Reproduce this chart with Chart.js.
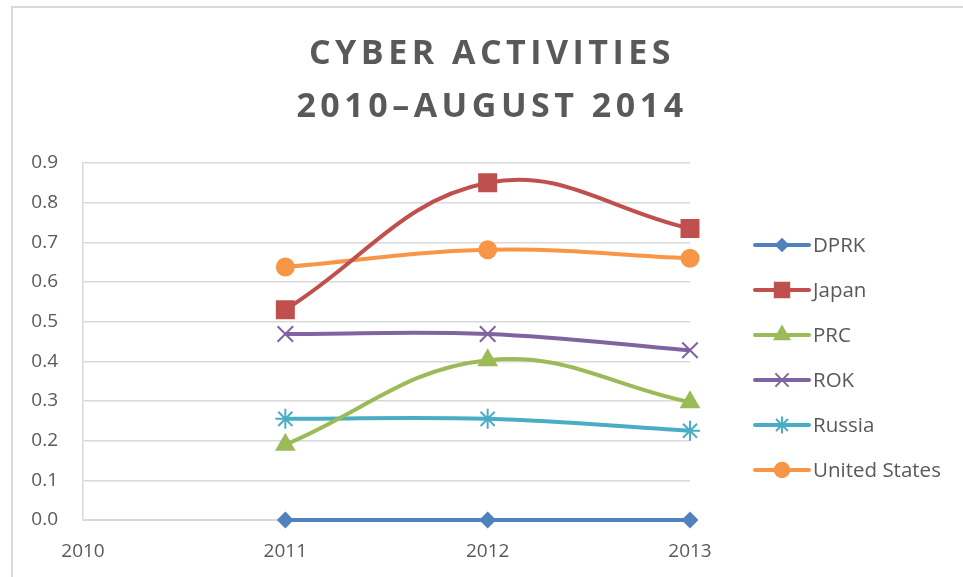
<!DOCTYPE html>
<html>
<head>
<meta charset="utf-8">
<script src="https://cdn.jsdelivr.net/npm/chart.js@4/dist/chart.umd.min.js"></script>
<style>
	html, body { margin: 0; padding: 0; background: #fff; }
	#wrap { position: relative; width: 963px; height: 577px; overflow: hidden; }
	#frame { position: absolute; left: 11px; top: 6px; width: 1000px; height: 600px;
		border-left: 2px solid #d9d9d9; border-top: 2px solid #d9d9d9; }
	#title { position: absolute; left: 0; top: 25px; width: 984px; text-align: center;
		font-family: "Open Sans", sans-serif; font-weight: 700; font-size: 34px;
		letter-spacing: 4.5px; line-height: 53px; color: #595959; }
	#chart { position: absolute; left: 0; top: 0; }
</style>
</head>
<body>
<div id="wrap">
	<div id="frame"></div>
	<canvas id="chart" width="963" height="577"></canvas>
	<div id="title">CYBER ACTIVITIES<br>2010–AUGUST 2014</div>
</div>
<script>
// data
const years = ["2010", "2011", "2012", "2013"];
const seriesNames = ["DPRK", "Japan", "PRC", "ROK", "Russia", "United States"];
const dprk = [null, 0, 0, 0];
const japan = [null, 0.53, 0.85, 0.735];
const prc = [null, 0.19, 0.403, 0.297];
const rok = [null, 0.469, 0.469, 0.428];
const russia = [null, 0.255, 0.255, 0.225];
const unitedStates = [null, 0.638, 0.681, 0.66];
const yMin = 0;
const yMax = 0.9;
const yStep = 0.1;

const colors = ["#4f81bd", "#c0504d", "#9bbb59", "#8064a2", "#4bacc6", "#f79646"];
const markers = ["rectRot", "rect", "triangle", "crossRot", "star", "circle"];
const markerSizes = [7, 12, 10, 11, 10, 8.5];
const values = [dprk, japan, prc, rok, russia, unitedStates];

// legend icon: line with the marker in the middle
const makeIcon = (i) => {
	const c = document.createElement("canvas");
	c.width = 58;
	c.height = 26;
	const ctx = c.getContext("2d");
	ctx.strokeStyle = colors[i];
	ctx.lineWidth = 4;
	ctx.lineCap = "round";
	ctx.beginPath();
	ctx.moveTo(2, 13);
	ctx.lineTo(56, 13);
	ctx.stroke();
	ctx.fillStyle = colors[i];
	ctx.lineWidth = 2;
	ctx.lineCap = "butt";
	Chart.helpers.drawPoint(ctx, {
		pointStyle: markers[i],
		radius: markerSizes[i] * 0.85,
		rotation: 0,
		borderWidth: 2,
	}, 29, 13);
	return c;
};
const icons = seriesNames.map((n, i) => makeIcon(i));

// excel style legend on the right: line + marker, then the name
const sideLegend = {
	id: "sideLegend",
	afterDraw(chart) {
		const c = chart.ctx;
		const left = chart.chartArea.right + 63;
		const top = 245;
		const gap = 45;
		c.save();
		c.font = '20.5px "Open Sans"';
		c.fillStyle = "#595959";
		c.textBaseline = "middle";
		c.textAlign = "left";
		chart.data.datasets.forEach((ds, i) => {
			const y = top + i * gap;
			c.drawImage(icons[i], left, y - 13);
			c.fillText(ds.label, left + 60, y + 1);
		});
		c.restore();
	},
};

const drawChart = () => {
	const datasets = seriesNames.map((name, i) => ({
		label: name,
		data: values[i],
		borderColor: colors[i],
		backgroundColor: colors[i],
		borderWidth: 4,
		tension: 0.4,
		pointStyle: markers[i],
		pointRadius: markerSizes[i],
		pointBorderWidth: 2,
		pointHoverRadius: markerSizes[i],
		clip: false,
	}));

	const ctx = document.getElementById("chart").getContext("2d");
	new Chart(ctx, {
		type: "line",
		data: { labels: years, datasets: datasets },
		plugins: [sideLegend],
		options: {
			responsive: false,
			animation: false,
			layout: { padding: { top: 163, left: 0, right: 273, bottom: 0 } },
			scales: {
				x: {
					offset: false,
					grid: { display: false, drawTicks: false },
					border: { display: true, color: "#d9d9d9", width: 1 },
					ticks: {
						color: "#595959",
						padding: 20,
						maxRotation: 0,
						font: { family: "Open Sans", size: 19 },
					},
					afterFit: (scale) => { scale.height = 57; },
				},
				y: {
					min: yMin,
					max: yMax,
					grid: { color: "#d9d9d9", lineWidth: 1.5, drawTicks: false },
					border: { display: true, color: "#d9d9d9", width: 1.5 },
					ticks: {
						stepSize: yStep,
						color: "#595959",
						padding: 25,
						font: { family: "Open Sans", size: 19 },
						callback: (v) => Number(v).toFixed(1),
					},
					afterFit: (scale) => { scale.width = 83; },
				},
			},
			plugins: {
				legend: { display: false },
				tooltip: { enabled: false },
			},
		},
	});
};

// make sure the font is ready before anything is measured
Promise.all([
	document.fonts.load('20px "Open Sans"'),
	document.fonts.load('19px "Open Sans"'),
]).then(drawChart, drawChart);
</script>
</body>
</html>
